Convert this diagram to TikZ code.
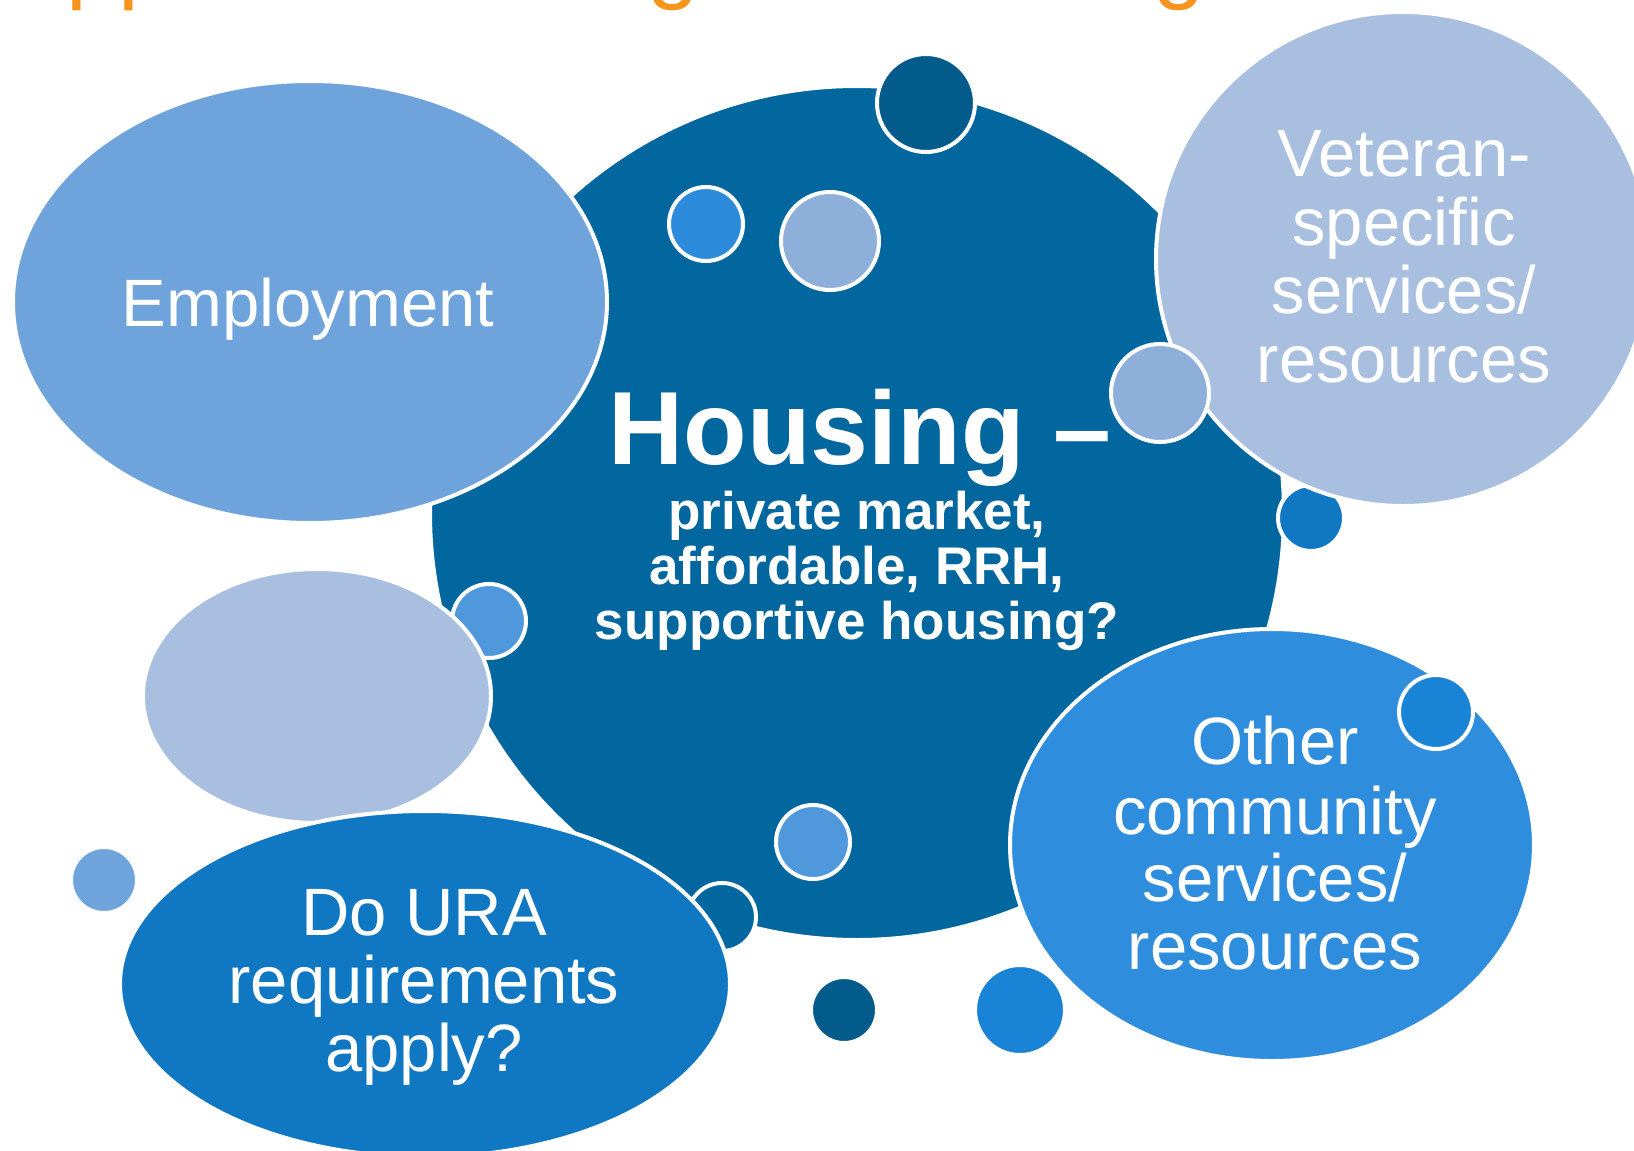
\documentclass[tikz,border=0pt]{standalone}
\usepackage{fontspec}
\setmainfont{Liberation Sans}
\usetikzlibrary{shapes.geometric}
\definecolor{maindark}{HTML}{02669F}
\definecolor{navy}{HTML}{035B8C}
\definecolor{empblue}{HTML}{6EA3DB}
\definecolor{paleblue}{HTML}{A8BFE0}
\definecolor{urablue}{HTML}{1077C2}
\definecolor{othblue}{HTML}{2E8DDD}
\definecolor{brightblue}{HTML}{2C8CDB}
\definecolor{softblue}{HTML}{8DAFDA}
\definecolor{midblue}{HTML}{4F98DC}
\definecolor{vivid}{HTML}{1983D6}
\definecolor{titleorange}{HTML}{F7941D}
\begin{document}
\begin{tikzpicture}[x=1pt,y=-1pt,
  blob/.style={draw=white, line width=4pt, inner sep=0pt, outer sep=0pt},
  dot/.style={blob, circle, minimum size=#1},
  oval/.style={blob, ellipse},
  txt/.style={text=white, inner sep=0pt, anchor=base, font=\fontsize{67}{70}\selectfont},
  subtxt/.style={text=white, inner sep=0pt, anchor=base, font=\bfseries\fontsize{53}{55}\selectfont},
  frag/.style={text=titleorange, inner sep=0pt, anchor=base west, font=\fontsize{93}{95}\selectfont}]
\useasboundingbox (0,0) rectangle (1634,1151);
% title fragments (cut off at the top)
\node[frag] (t1) at (66,-9) {p};
\node[frag] (t2) at (118,-9) {p};
\node[frag] (t3) at (647,-9) {g};
\node[frag] (t4) at (1153,-9) {g};
% main circle
\node[dot=854pt, fill=maindark] (main) at (857,513) {};
% dots under the bubbles
\node[dot=74pt, fill=midblue] (d6) at (489,621) {};
\node[dot=68pt, fill=maindark] (d8) at (722,917) {};
\node[dot=66pt, fill=urablue] (d5) at (1311,518) {};
% bubbles
\node[oval, fill=empblue, minimum width=594pt, minimum height=442pt] (emp) at (310,302) {};
\node[oval, fill=paleblue, minimum width=348pt, minimum height=254pt] (pale) at (317,696) {};
\node[oval, fill=urablue, minimum width=610pt, minimum height=346pt] (ura) at (425,984) {};
\node[dot=494pt, fill=paleblue] (vet) at (1403,259) {};
\node[oval, fill=othblue, minimum width=524pt, minimum height=432pt] (oth) at (1272,845) {};
% dots on top
\node[dot=98pt, fill=navy] (d1) at (926,103) {};
\node[dot=74pt, fill=brightblue] (d2) at (706,224) {};
\node[dot=98pt, fill=softblue] (d3) at (830,241) {};
\node[dot=98pt, fill=softblue] (d4) at (1160,393) {};
\node[dot=74pt, fill=midblue] (d7) at (813,842) {};
\node[dot=74pt, fill=vivid] (d12) at (1436,712) {};
\node[dot=66pt, fill=empblue] (d9) at (104,880) {};
\node[dot=66pt, fill=navy] (d10) at (844,1010) {};
\node[dot=90pt, fill=vivid] (d11) at (1020,1010) {};
% texts
\node[txt] (empT) at (308,326) {Employment};
\node[txt] (vetA) at (1404,176) {Veteran-};
\node[txt] (vetB) at (1404,245) {specific};
\node[txt] (vetC) at (1404,313) {services/};
\node[txt] (vetD) at (1404,382) {resources};
\node[text=white, inner sep=0pt, anchor=base, font=\bfseries\fontsize{104}{106}\selectfont] (houT) at (860,464) {Housing –};
\node[subtxt] (subA) at (857,529) {private market,};
\node[subtxt] (subB) at (857,584) {affordable, RRH,};
\node[subtxt] (subC) at (857,639) {supportive housing?};
\node[txt] (uraA) at (424,935) {Do URA};
\node[txt] (uraB) at (424,1003) {requirements};
\node[txt] (uraC) at (424,1071) {apply?};
\node[txt] (othA) at (1275,764) {Other};
\node[txt] (othB) at (1275,834) {community};
\node[txt] (othC) at (1275,901) {services/};
\node[txt] (othD) at (1275,969) {resources};
\end{tikzpicture}
\end{document}
